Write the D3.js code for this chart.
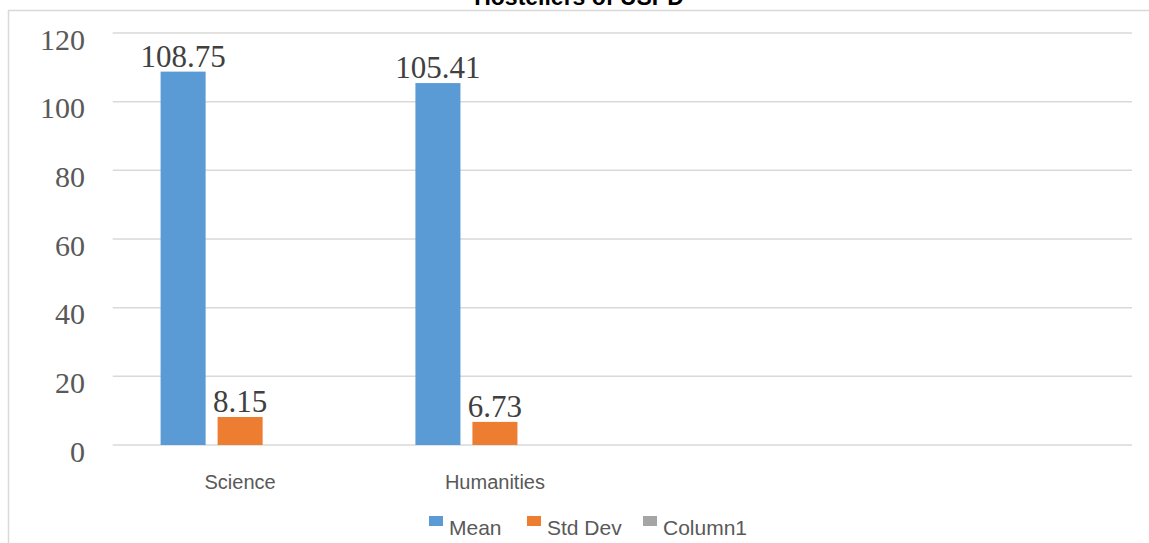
<!DOCTYPE html>
<html lang="en">
<head>
    <meta charset="UTF-8">
    <title>Hostellers of USPD</title>
    <script src="https://d3js.org/d3.v7.min.js"></script>
    <style>
        body { margin: 0; background: #fff; }
    </style>
</head>
<body>
    <script>
        const categories = ["Science", "Humanities", "", ""];
        const seriesNames = ["Mean", "Std Dev", "Column1"];
        const mean = [108.75, 105.41, null, null];
        const stdDev = [8.15, 6.73, null, null];
        const column1 = [null, null, null, null];
        const yTicks = [0, 20, 40, 60, 80, 100, 120];
        const colors = ["#5B9BD5", "#ED7D31", "#A5A5A5"];

        const width = 1149, height = 543;
        const plotLeft = 112.7, plotRight = 1132, plotTop = 33, plotBottom = 445;

        const svg = d3.select("body").append("svg")
            .attr("width", width)
            .attr("height", height);

        // chart border (only top and left edges fall inside the picture)
        svg.append("rect")
            .attr("x", 8.5).attr("y", 10.5)
            .attr("width", 1300).attr("height", 700)
            .attr("fill", "none")
            .attr("stroke", "#D9D9D9")
            .attr("stroke-width", 1.5);

        // title sits mostly above the visible area, as in the source image
        svg.append("text")
            .attr("x", 579).attr("y", 5)
            .attr("text-anchor", "middle")
            .attr("font-family", "Liberation Sans, Arial, sans-serif")
            .attr("font-weight", "bold")
            .attr("font-size", 23)
            .attr("fill", "#000")
            .text("Hostellers of USPD");

        const y = d3.scaleLinear().domain([0, 120]).range([plotBottom, plotTop]);
        const x0 = d3.scaleBand().domain(d3.range(categories.length)).range([plotLeft, plotRight]);
        const x1 = d3.scaleBand().domain(seriesNames).range([0, x0.bandwidth()])
            .paddingInner(0.21).paddingOuter(0.84);

        // gridlines
        svg.append("g").selectAll("line").data(yTicks).join("line")
            .attr("x1", plotLeft).attr("x2", plotRight)
            .attr("y1", d => y(d)).attr("y2", d => y(d))
            .attr("stroke", "#D9D9D9")
            .attr("stroke-width", 1.5);

        // y tick labels
        svg.append("g").selectAll("text").data(yTicks).join("text")
            .attr("x", 85)
            .attr("y", d => y(d) + 6)
            .attr("dy", "0.35em")
            .attr("text-anchor", "end")
            .attr("font-family", "Liberation Serif, Times New Roman, serif")
            .attr("font-size", 30)
            .attr("fill", "#595959")
            .text(d => d);

        const series = [mean, stdDev, column1];
        const cells = [];
        categories.forEach((c, i) => {
            seriesNames.forEach((s, j) => {
                if (series[j][i] != null) cells.push({ i, s, j, v: series[j][i] });
            });
        });

        svg.append("g").selectAll("rect").data(cells).join("rect")
            .attr("x", d => x0(d.i) + x1(d.s))
            .attr("y", d => y(d.v))
            .attr("width", x1.bandwidth())
            .attr("height", d => y(0) - y(d.v))
            .attr("fill", d => colors[d.j]);

        // data labels
        svg.append("g").selectAll("text").data(cells).join("text")
            .attr("x", d => x0(d.i) + x1(d.s) + x1.bandwidth() / 2)
            .attr("y", d => y(d.v) - 5)
            .attr("text-anchor", "middle")
            .attr("font-family", "Liberation Serif, Times New Roman, serif")
            .attr("font-size", 31)
            .attr("fill", "#404040")
            .text(d => d.v.toFixed(2));

        // category labels
        svg.append("g").selectAll("text").data(categories).join("text")
            .attr("x", (d, i) => x0(i) + x0.bandwidth() / 2)
            .attr("y", 489)
            .attr("text-anchor", "middle")
            .attr("font-family", "Liberation Sans, Arial, sans-serif")
            .attr("font-size", 20)
            .attr("fill", "#595959")
            .text(d => d);

        // legend
        const legendX = [429, 527, 643];
        const legend = svg.append("g").selectAll("g").data(seriesNames).join("g")
            .attr("transform", (d, i) => `translate(${legendX[i]},0)`);
        legend.append("rect")
            .attr("x", 0).attr("y", 516)
            .attr("width", 14).attr("height", 10)
            .attr("fill", (d, i) => colors[i]);
        legend.append("text")
            .attr("x", 20).attr("y", 535)
            .attr("font-family", "Liberation Sans, Arial, sans-serif")
            .attr("font-size", 21)
            .attr("fill", "#595959")
            .text(d => d);
    </script>
</body>
</html>
